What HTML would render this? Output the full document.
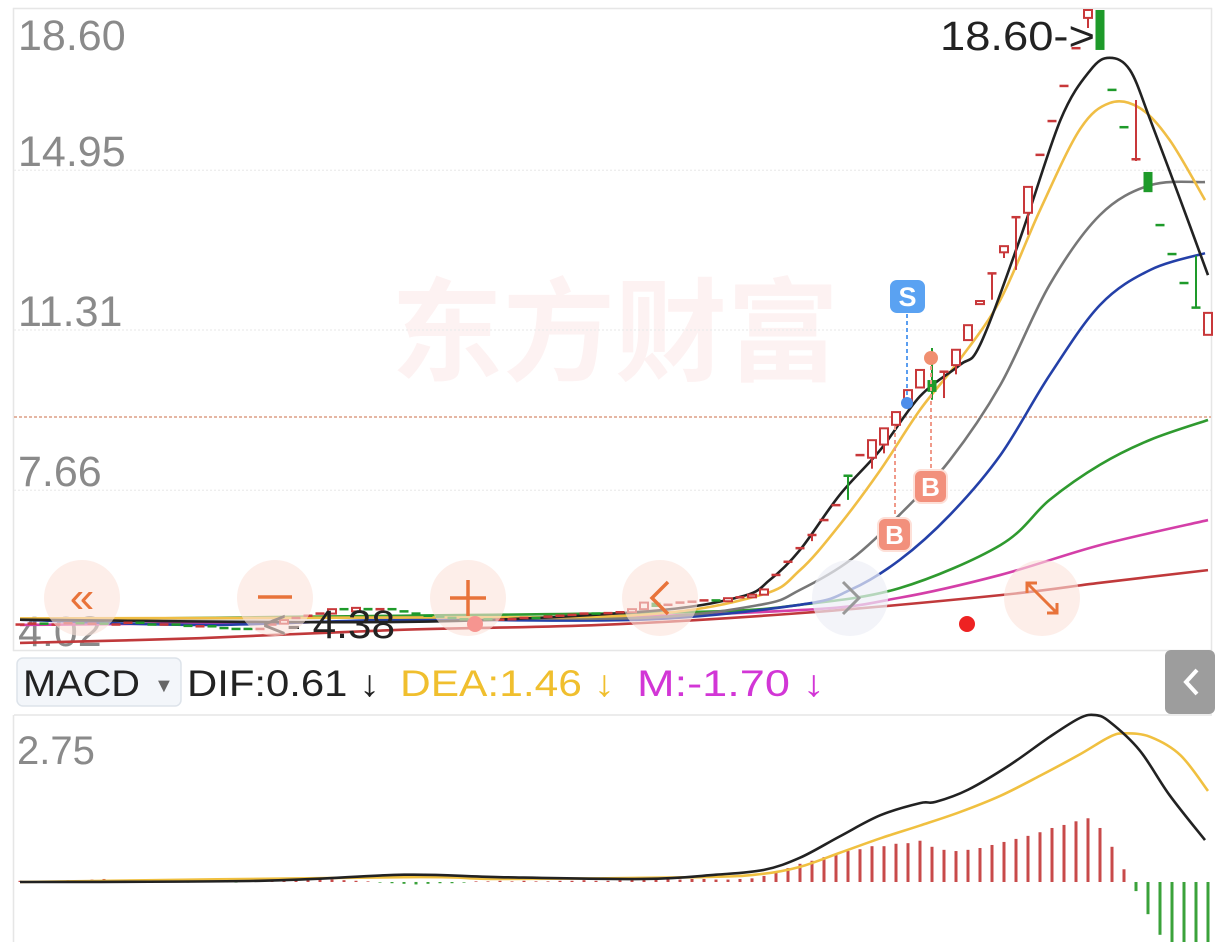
<!DOCTYPE html>
<html><head><meta charset="utf-8">
<style>
html,body{margin:0;padding:0;background:#fff;}
body{width:1224px;height:942px;overflow:hidden;font-family:"Liberation Sans","Noto Sans CJK SC",sans-serif;}
</style></head>
<body>
<svg id="chart" width="1224" height="942" viewBox="0 0 1224 942" xmlns="http://www.w3.org/2000/svg" font-family="Liberation Sans, Noto Sans CJK SC, sans-serif">
  <text x="615" y="372" font-size="112" fill="#fdf2f2" text-anchor="middle" font-family="Noto Sans CJK SC, sans-serif" font-weight="bold">东方财富</text>
  <rect x="13.5" y="8.5" width="1198" height="642" fill="none" stroke="#e6e6e6" stroke-width="1.5"/>
  <g id="grid" stroke="#ececec" stroke-width="1.2" stroke-dasharray="2 2"></g>
  <line x1="14" y1="417" x2="1211" y2="417" stroke="#d58a6c" stroke-width="1.2" stroke-dasharray="3 2"/>
  <g id="ylabels" font-size="43" fill="#8a8a8a"></g>
  <g id="mas" fill="none" stroke-width="2.6"></g>
  <g id="candles"></g>
  <g>
    <line x1="907" y1="314" x2="907" y2="398" stroke="#5b9ef0" stroke-width="2" stroke-dasharray="4 3"/>
    <circle cx="907" cy="403" r="6" fill="#4d8eea"/>
    <rect x="890" y="280" width="35" height="33" rx="7" fill="#5aa2f2"/>
    <text x="907.5" y="306" font-size="27" font-weight="bold" fill="#fff" text-anchor="middle">S</text>
    <line x1="931" y1="366" x2="931" y2="470" stroke="#f09a8a" stroke-width="2" stroke-dasharray="4 3"/>
    <circle cx="931" cy="358" r="7" fill="#f08f70"/>
    <rect x="914" y="470" width="33" height="33" rx="7" fill="#f2907c" stroke="#fde0d8" stroke-width="2"/>
    <text x="930.5" y="496" font-size="26" font-weight="bold" fill="#fff" text-anchor="middle">B</text>
    <line x1="895" y1="426" x2="895" y2="518" stroke="#f09a8a" stroke-width="2" stroke-dasharray="4 3"/>
    <rect x="878" y="518" width="33" height="33" rx="7" fill="#f2907c" stroke="#fde0d8" stroke-width="2"/>
    <text x="894.5" y="544" font-size="26" font-weight="bold" fill="#fff" text-anchor="middle">B</text>
    <circle cx="475" cy="624" r="8" fill="#ee2222"/>
    <circle cx="967" cy="624" r="8" fill="#ee2222"/>
  </g>
  <text x="940" y="50" font-size="41" fill="#222" textLength="155" lengthAdjust="spacingAndGlyphs">18.60-&gt;</text>
  <text x="262" y="638" font-size="40" fill="#222" textLength="133" lengthAdjust="spacingAndGlyphs">&lt;- 4.38</text>
  <g>
    <g><circle cx="82" cy="598" r="38" fill="#fbe3da" opacity="0.6"/><text x="82" y="612" font-size="44" fill="#e8733a" text-anchor="middle">«</text></g>
    <g><circle cx="275" cy="598" r="38" fill="#fbe3da" opacity="0.6"/><line x1="258" y1="597" x2="292" y2="597" stroke="#e8733a" stroke-width="3.5"/></g>
    <g><circle cx="468" cy="598" r="38" fill="#fbe3da" opacity="0.6"/><line x1="450" y1="598" x2="486" y2="598" stroke="#e8733a" stroke-width="3.5"/><line x1="468" y1="580" x2="468" y2="616" stroke="#e8733a" stroke-width="3.5"/></g>
    <g><circle cx="660" cy="598" r="38" fill="#fbe3da" opacity="0.6"/><polyline points="668,582 652,598 668,614" fill="none" stroke="#e8733a" stroke-width="3.5"/></g>
    <g><circle cx="850" cy="598" r="38" fill="#eef0f6" opacity="0.7"/><polyline points="843,582 859,598 843,614" fill="none" stroke="#999" stroke-width="3"/></g>
    <g><circle cx="1042" cy="598" r="38" fill="#fbe3da" opacity="0.6"/><line x1="1027" y1="583" x2="1057" y2="613" stroke="#e8733a" stroke-width="3"/><polyline points="1027,593 1027,583 1037,583" fill="none" stroke="#e8733a" stroke-width="3"/><polyline points="1047,613 1057,613 1057,603" fill="none" stroke="#e8733a" stroke-width="3"/></g>
  </g>
  <g>
    <rect x="17" y="658" width="164" height="48" rx="6" fill="#f3f6fa" stroke="#dde3ea" stroke-width="1.5"/>
    <text x="23" y="696" font-size="37" fill="#222" textLength="117" lengthAdjust="spacingAndGlyphs">MACD</text>
    <text x="154" y="692" font-size="20" fill="#666">▼</text>
    <text x="187" y="696" font-size="37" fill="#222" textLength="193" lengthAdjust="spacingAndGlyphs">DIF:0.61 ↓</text>
    <text x="400" y="696" font-size="37" fill="#f0bf2e" textLength="215" lengthAdjust="spacingAndGlyphs">DEA:1.46 ↓</text>
    <text x="637" y="696" font-size="37" fill="#d236d6" textLength="188" lengthAdjust="spacingAndGlyphs">M:-1.70 ↓</text>
    <rect x="1165" y="650" width="50" height="64" rx="6" fill="#9d9d9d"/>
    <polyline points="1197,670 1186,682 1197,694" fill="none" stroke="#fff" stroke-width="4"/>
  </g>
  <line x1="14" y1="715" x2="1212" y2="715" stroke="#e6e6e6" stroke-width="1.5"/>
  <line x1="13.5" y1="715" x2="13.5" y2="942" stroke="#e6e6e6" stroke-width="1.5"/>
  <text x="17" y="764" font-size="40" fill="#8a8a8a">2.75</text>
  <g id="macd"></g>
</svg>
<script>
// ---- price chart data ----
const tickLabels = ["18.60","14.95","11.31","7.66","4.02"];
const opens = [4.58,4.6,4.62,4.6,4.6,4.63, 4.6,4.62,4.58,4.6,4.64, 4.6,4.58,4.6,4.57,4.55, 4.56,4.52,4.5,4.5,4.47, 4.55,4.62,4.7,4.78,4.8, 4.85,4.95,4.9,4.98,4.92, 4.95,4.9,4.85,4.8,4.78, 4.75,4.72,4.7,4.72,4.7, 4.7,4.72,4.75,4.74,4.78, 4.8,4.82,4.85,4.84,4.86, 4.88,4.95,5.1,5.0,5.05, 5.1,5.12,5.15,5.13,5.2,5.22,
  5.28,5.73,6.03,6.34,6.6,6.98,7.32,7.99,8.46,8.4,8.7,9.15,9.67,10.0,10.17,10.35,10.51,11.08,11.9,12.58,13.08,13.85,13.98,15.3,16.07,16.87,17.73,18.42,18.6,16.78,15.93,15.16,14.91,13.7,13.04,12.38,11.82,11.2];
const closes = [4.6,4.62,4.58,4.6,4.63,4.6, 4.62,4.58,4.6,4.64,4.6, 4.58,4.6,4.57,4.55,4.56, 4.52,4.5,4.48,4.47,4.5, 4.6,4.7,4.75,4.8,4.85, 4.95,4.9,4.98,4.92,4.95, 4.9,4.85,4.8,4.78,4.75, 4.72,4.7,4.72,4.7,4.71, 4.72,4.75,4.73,4.78,4.8, 4.82,4.85,4.84,4.86,4.88, 4.95,5.1,5.0,5.05,5.1, 5.12,5.15,5.13,5.2,5.22,5.28,
  5.4,5.73,6.03,6.34,6.64,6.98,7.32,7.95,8.46,8.8,9.07,9.44,9.94,10.4,9.9,10.36,10.86,11.42,11.97,12.6,13.22,13.88,14.57,15.3,16.07,16.87,17.73,18.6,17.69,16.78,15.93,15.2,14.45,13.7,13.04,12.38,11.8,11.7];
const highs = {69:7.99,71:8.8,72:9.07,73:9.44,76:10.9,77:10.36,78:10.86,89:18.6,93:16.55,98:13.0};
const lows = {66:6.5,69:7.44,71:8.15,72:8.5,73:9.1,76:9.72,77:9.76,78:10.3,81:12.0,82:12.95,83:12.68,84:13.48,89:18.19,93:15.16,98:11.8};
const maColors = ["#222222","#f0be45","#777777","#2440a8","#2f9a2f","#d43fa8","#c0393b"];
const maIdx = [
  [0,31.7,51.7,60,62.5,65,68.3,71.7,75,78.3,80,83.3,86.7,89.2,90.8,92.5,94.2,96.7,99],
  [0,31.7,51.7,61.7,65,68.3,71.7,75,78.3,81.7,85,88.3,90.8,93.3,95.8,98.75],
  [0,31.7,51.7,61.7,65,69.2,73.3,77.5,81.7,85.8,90,94.2,98.75],
  [0,15,31.7,51.7,65,69.2,73.3,77.5,81.7,85.8,90,94.2,98.75],
  [0,31.7,56.7,65,73.3,81.7,85.8,90,94.2,99],
  [0,40,65,73.3,81.7,90,99],
  [0,15,31.7,48.3,65,81.7,90,99]];
const maVals = [
  [4.71,4.66,4.89,5.23,5.62,6.3,7.55,8.58,9.8,10.51,10.97,13.36,16.09,17.23,17.51,17.23,16.09,14.27,12.56],
  [4.74,4.76,4.82,5.27,5.84,6.87,8.12,9.49,10.63,12.0,14.04,15.87,16.48,16.37,15.64,14.27],
  [4.72,4.76,4.75,5.05,5.39,6.07,7.10,8.35,10.06,12.34,13.93,14.61,14.68],
  [4.71,4.59,4.71,4.71,5.05,5.39,6.07,7.10,8.46,10.28,11.88,12.68,13.06],
  [4.71,4.80,4.89,5.05,5.43,6.41,7.44,8.24,8.81,9.26],
  [4.59,4.71,4.93,5.21,5.73,6.41,6.98],
  [4.18,4.29,4.48,4.59,4.86,5.27,5.55,5.84]];
// ---- MACD data ----
const histVals = [0.02,0.01,-0.01,0.02,0.03,0.02,0.04,0.05,0.03,0.02,0.01,-0.01,0.01,0.02,-0.01,0.01,0.02,0.01,-0.01,0.02,0.03,0.04,0.05,0.05,0.06,0.05,0.04,0.03,0.02,0.01,-0.01,-0.02,-0.03,-0.04,-0.03,-0.02,-0.02,-0.01,0.01,0.01,0.02,0.01,0.02,0.01,0.01,0.02,0.02,0.03,0.02,0.02,0.03,0.04,0.04,0.05,0.05,0.04,0.05,0.05,0.04,0.04,0.05,0.06,
  0.1,0.16,0.23,0.3,0.35,0.41,0.46,0.51,0.54,0.59,0.59,0.63,0.64,0.68,0.58,0.53,0.51,0.53,0.56,0.61,0.66,0.71,0.76,0.82,0.89,0.94,1.0,1.05,0.89,0.58,0.21,-0.15,-0.53,-0.87,-1.1,-1.3,-1.5,-1.7];
const difIdx = [0,20,32,40,52,58,62,65,68.3,71.7,75,76.3,79,82.5,85.8,88.3,89.6,90.8,93.3,95.8,98.75];
const difVals = [0,0.02,0.12,0.08,0.05,0.12,0.2,0.4,0.75,1.1,1.3,1.32,1.52,1.93,2.39,2.70,2.75,2.64,2.17,1.43,0.69];
const deaIdx = [0,32,40,56.7,61.7,65,68.3,71.7,75,78.3,81.7,85,88.3,90.8,92.1,94.2,96.7,99];
const deaVals = [0,0.08,0.05,0.08,0.13,0.25,0.48,0.72,0.93,1.15,1.42,1.75,2.1,2.39,2.45,2.39,2.09,1.5];

const NS="http://www.w3.org/2000/svg";
function mk(tag, attrs, parent){const e=document.createElementNS(NS,tag);for(const k in attrs)e.setAttribute(k,attrs[k]);parent.appendChild(e);return e;}
const xAt = i => 20 + 12*i;
const py = p => 10 + (18.6 - p) * 160/3.645;
const my = v => 882 - v * 60.7;

const grid=document.getElementById('grid'), yl=document.getElementById('ylabels');
tickLabels.forEach((t,k)=>{
  const y = py(parseFloat(t));
  if(k>0 && k<4){const l=mk('line',{x1:14,x2:1211,y1:y,y2:y},grid);
    
    }
  const tx=mk('text',{x:18,y:(k===0?50:y-4)},yl); tx.textContent=t;
  
  
});

function smoothPath(pts){
  let d=`M${pts[0][0]},${pts[0][1]}`;
  for(let i=0;i<pts.length-1;i++){
    const p0=pts[i-1]||pts[i],p1=pts[i],p2=pts[i+1],p3=pts[i+2]||p2;
    const c1x=p1[0]+(p2[0]-p0[0])/6,c1y=p1[1]+(p2[1]-p0[1])/6;
    const c2x=p2[0]-(p3[0]-p1[0])/6,c2y=p2[1]-(p3[1]-p1[1])/6;
    d+=` C${c1x},${c1y} ${c2x},${c2y} ${p2[0]},${p2[1]}`;
  }
  return d;
}
const mas=document.getElementById('mas');
for(let m=maVals.length-1;m>=0;m--){
  const pts=maIdx[m].map((ix,k)=>[xAt(ix),py(maVals[m][k])]);
  const p=mk('path',{d:smoothPath(pts),stroke:maColors[m]},mas);
  
  
}

const cg=document.getElementById('candles');
closes.forEach((c,i)=>{
  const o=opens[i];
  let up = c>o ? true : c<o ? false : (i>0 ? c>=closes[i-1] : true);
  const col = up ? "#c8383a" : "#1e9a2a";
  const x=xAt(i);
  const hi = highs[i]!==undefined?highs[i]:Math.max(o,c);
  const lo = lows[i]!==undefined?lows[i]:Math.min(o,c);
  const g=mk('g',{},cg);
  
  
  if(hi>Math.max(o,c)+1e-6||lo<Math.min(o,c)-1e-6) mk('line',{x1:x,x2:x,y1:py(hi),y2:py(lo),stroke:col,'stroke-width':2},g);
  const top=py(Math.max(o,c)), bot=py(Math.min(o,c)), h=bot-top;
  if(h<2.5){ mk('line',{x1:x-4.5,x2:x+4.5,y1:top,y2:top,stroke:col,'stroke-width':2.5},g); }
  else if(up){ mk('rect',{x:x-4,y:top,width:8,height:h,fill:"#fff",stroke:col,'stroke-width':2},g); }
  else { mk('rect',{x:x-4.5,y:top,width:9,height:h,fill:col},g); }
});

const mg=document.getElementById('macd');
histVals.forEach((v,i)=>{
  const x=xAt(i);
  const y2=Math.min(942,my(v));
  const l=mk('line',{x1:x,x2:x,y1:my(0),y2:y2,stroke:v>=0?"#c84a4a":"#3aa23a",'stroke-width':3},mg);
  
  
});
const dea=mk('path',{d:smoothPath(deaIdx.map((ix,k)=>[xAt(ix),my(deaVals[k])])),fill:"none",stroke:"#f0c040",'stroke-width':2.6},mg);


const dif=mk('path',{d:smoothPath(difIdx.map((ix,k)=>[xAt(ix),my(difVals[k])])),fill:"none",stroke:"#222",'stroke-width':2.6},mg);


</script>
</body></html>
